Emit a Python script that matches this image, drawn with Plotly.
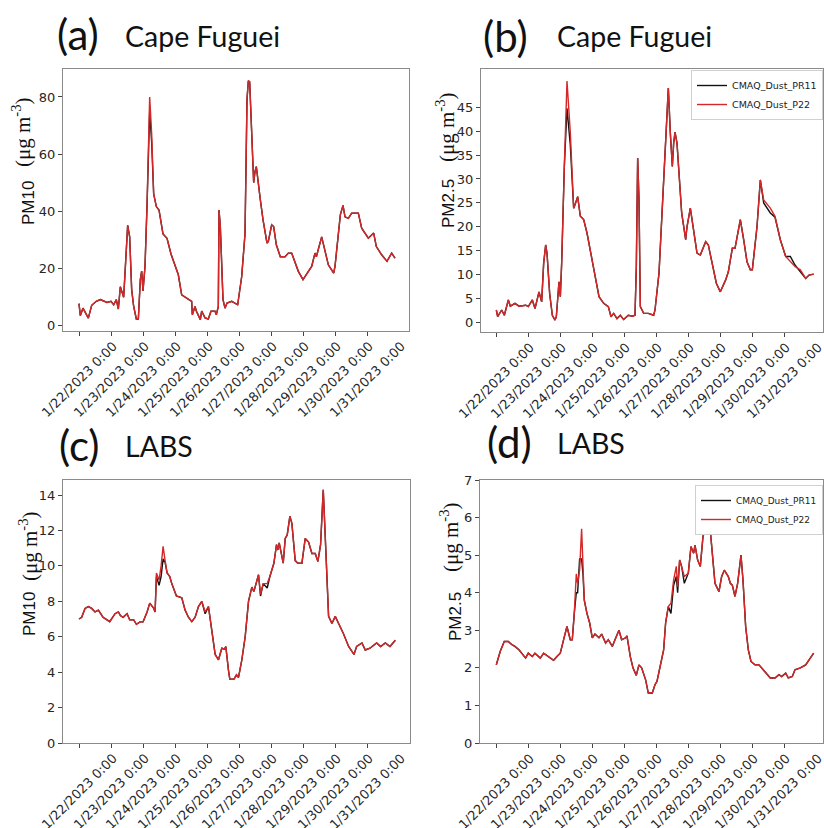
import pandas as pd
import plotly.graph_objects as go

# ---------------- data (hours after 1/22/2023 0:00) ----------------
tick_labels = ["1/22/2023 0:00", "1/23/2023 0:00", "1/24/2023 0:00", "1/25/2023 0:00",
               "1/26/2023 0:00", "1/27/2023 0:00", "1/28/2023 0:00", "1/29/2023 0:00",
               "1/30/2023 0:00", "1/31/2023 0:00"]
series_names = ["CMAQ_Dust_PR11", "CMAQ_Dust_P22"]

# (a) Cape Fuguei PM10
a_hours = [0, 1, 3, 5, 7, 9.5, 13, 16, 21, 24,
           26, 28, 29.5, 31, 33.5, 36.5, 38, 39.5, 41, 43,
           44.5, 46, 47, 48, 49.5, 51, 53, 54.5, 56, 58,
           60, 63, 66, 69, 72, 74.5, 77, 79.5, 82, 84.5,
           85, 87, 88, 91, 92, 94.5, 97, 99, 102, 103,
           104.5, 105, 106, 108, 109.5, 111, 114.5, 117, 119, 122,
           124.5, 126, 127, 128, 129.5, 131, 132, 133, 136, 138,
           141, 142, 144.5, 146, 148, 151, 154.5, 157, 159.5, 162,
           164.5, 168, 171, 174.5, 177, 178, 182, 184.5, 187, 191,
           192, 196, 198, 199.5, 202, 204.5, 209.5, 212, 214.5, 217,
           221, 223, 227, 231, 234.5, 237]
a_p22 = [7.6, 3.4, 6.0, 4.3, 2.5, 7.0, 8.4, 9.0, 8.0, 8.4,
         7.2, 9.0, 5.7, 13.5, 9.8, 35, 31, 12.5, 6.6, 2.2,
         2.2, 16, 19, 12, 20.6, 41.6, 80, 67, 46, 41.6,
         40.4, 32, 30.5, 25, 20.6, 17.7, 10.7, 10, 9, 8.4,
         3.7, 6.6, 5, 2, 5, 2.6, 2.2, 4.9, 4.9, 3.7,
         6.6, 40.4, 34.6, 9, 6, 7.8, 8.4, 7.8, 7.2, 17,
         32, 79, 85.7, 85.3, 67, 50, 53.8, 55.6, 44, 37,
         28.8, 29.4, 35.2, 34.6, 28.2, 24, 24, 25.3, 25.3, 21.8,
         18.9, 16, 18.3, 20.6, 25.3, 24, 31, 26.5, 21.2, 18.3,
         20.6, 38.7, 42, 38, 37.5, 39.3, 39.3, 34, 32.3, 30.5,
         32.3, 27.6, 24.7, 22.4, 25.3, 23.5]
a_pr11 = [7.6, 3.4, 6.0, 4.3, 2.5, 7.0, 8.4, 9.0, 8.0, 8.4,
          7.2, 9.0, 5.7, 13.5, 9.8, 35, 31, 12.5, 6.6, 2.2,
          2.2, 16, 19, 12, 20.6, 41.6, 75, 64, 46, 41.6,
          40.4, 32, 30.5, 25, 20.6, 17.7, 10.7, 10, 9, 8.4,
          3.7, 6.6, 5, 2, 5, 2.6, 2.2, 4.9, 4.9, 3.7,
          6.6, 40.4, 34.6, 9, 6, 7.8, 8.4, 7.8, 7.2, 17,
          32, 79, 85.7, 85.3, 67, 50, 53.8, 55.6, 44, 37,
          28.8, 29.4, 35.2, 34.6, 28.2, 24, 24, 25.3, 25.3, 21.8,
          18.9, 16, 18.3, 20.6, 25.3, 24, 31, 26.5, 21.2, 18.3,
          20.6, 38.7, 42, 38, 37.5, 39.3, 39.3, 34, 32.3, 30.5,
          32.3, 27.6, 24.7, 22.4, 25.3, 23.5]

# (b) Cape Fuguei PM2.5
b_hours = [0, 1, 4, 6, 9, 10.5, 14, 17, 22, 24,
           27, 29, 32, 34, 35.5, 37, 38, 40, 42, 44,
           45, 47, 48, 49, 51, 53, 55.5, 58, 59, 61,
           63, 65.5, 68, 72, 74, 77, 80.5, 84, 86, 88,
           90.5, 93, 95.5, 99, 102, 104, 105, 106, 107, 108,
           110.5, 114, 118, 119, 122, 125.5, 129, 130.5, 132, 133,
           134, 135.5, 137, 139, 142, 143, 145.5, 148, 150.5, 153,
           157, 159, 162, 165, 168, 172, 174, 177, 179, 183,
           185.5, 188, 190.5, 192, 195.5, 198, 200.5, 205.5, 209, 213,
           217, 220.5, 224, 228, 232, 234.5, 238]
b_p22 = [2.6, 1.2, 2.6, 1.5, 4.7, 3.4, 4.0, 3.4, 3.6, 3.3,
         4.7, 2.9, 6.4, 4.3, 12.4, 16.2, 14.5, 6, 1.5, 0.5,
         1.2, 8.5, 5.4, 12.4, 32.6, 50.5, 39.6, 23.9, 24.6, 26.3,
         22.2, 21.5, 18.7, 13, 9.9, 5.4, 4, 3.3, 1.2, 1.9,
         0.8, 1.5, 0.6, 1.5, 1.3, 1.5, 11.7, 34.4, 25.6, 3.3,
         1.9, 1.9, 1.5, 2.6, 10.3, 29.1, 49, 39.6, 32.6, 37.5,
         39.8, 37.5, 30.5, 22.9, 17.3, 20, 23.9, 18.7, 14.5, 14.1,
         16.9, 16.2, 12.4, 8.2, 6.4, 8.9, 10.6, 15.5, 15.5, 21.5,
         17.3, 12.7, 11, 11, 20, 29.8, 25.6, 23.9, 22.2, 17.3,
         13.8, 12.7, 11.7, 11, 9.2, 9.9, 10.1]
b_pr11 = [2.6, 1.2, 2.6, 1.5, 4.7, 3.4, 4.0, 3.4, 3.6, 3.3,
          4.7, 2.9, 6.4, 4.3, 12.4, 16.2, 14.5, 6, 1.5, 0.5,
          1.2, 8.5, 5.4, 12.4, 32.6, 44.8, 37, 23.9, 24.6, 26.3,
          22.2, 21.5, 18.7, 13, 9.9, 5.4, 4, 3.3, 1.2, 1.9,
          0.8, 1.5, 0.6, 1.5, 1.3, 1.5, 11.7, 34.4, 25.6, 3.3,
          1.9, 1.9, 1.5, 2.6, 10.3, 29.1, 49, 39.6, 32.6, 37.5,
          39.8, 37.5, 30.5, 22.9, 17.3, 20, 23.9, 18.7, 14.5, 14.1,
          16.9, 16.2, 12.4, 8.2, 6.4, 8.9, 10.6, 15.5, 15.5, 21.5,
          17.3, 12.7, 11, 11, 20, 29.8, 25.0, 22.9, 22.0, 17.3,
          13.8, 13.8, 12.0, 10.6, 9.2, 9.9, 10.1]

# (c) LABS PM10
c_hours = [0, 2, 4.5, 7, 9.5, 12, 14.5, 18, 21, 23,
           27, 29.5, 31, 33, 36, 38, 41, 43, 46, 48,
           51, 53, 56, 57, 58, 60, 61.5, 63, 64.5, 66,
           68, 69.5, 72, 73, 77, 79.5, 82, 84.5, 87, 89.5,
           92, 94.5, 97, 99.5, 102, 104.5, 107, 109, 110, 112,
           113, 116, 118, 119.5, 122, 124.5, 127, 129.5, 131, 134.5,
           136, 138, 141, 143, 146, 148, 149, 150, 153, 154.5,
           156, 158, 159.5, 162, 164, 167, 169.5, 172, 174.5, 177,
           179, 181, 183, 184.5, 187, 189.5, 192, 194.5, 198, 202,
           206, 208, 212, 214.5, 218, 223, 226, 229.5, 233, 237]
c_p22 = [7.0, 7.1, 7.6, 7.7, 7.6, 7.4, 7.5, 7.1, 6.95, 6.85,
         7.3, 7.4, 7.2, 7.1, 7.3, 6.95, 6.95, 6.7, 6.85, 6.85,
         7.4, 7.9, 7.6, 7.4, 9.6, 9.2, 10.0, 11.1, 10.3, 9.6,
         9.4, 9.0, 8.5, 8.3, 8.2, 7.5, 7.1, 6.85, 7.1, 7.7,
         8.0, 7.4, 7.7, 6.2, 5.0, 4.7, 5.35, 5.3, 5.45, 4.1,
         3.6, 3.6, 3.85, 3.7, 4.7, 6.0, 8.0, 8.8, 8.55, 9.5,
         8.4, 9.0, 9.0, 9.4, 10.15, 11.2, 10.9, 11.3, 10.15, 11.55,
         11.75, 12.8, 12.4, 10.3, 10.15, 10.15, 11.55, 11.35, 10.7, 10.7,
         10.25, 11.2, 14.3, 11.65, 7.15, 6.75, 7.15, 6.75, 6.2, 5.45,
         5.0, 5.45, 5.65, 5.25, 5.35, 5.65, 5.45, 5.65, 5.45, 5.8]
c_pr11 = [7.0, 7.1, 7.6, 7.7, 7.6, 7.4, 7.5, 7.1, 6.95, 6.85,
          7.3, 7.4, 7.2, 7.1, 7.3, 6.95, 6.95, 6.7, 6.85, 6.85,
          7.4, 7.9, 7.6, 7.4, 9.4, 8.9, 9.4, 10.4, 10.2, 9.6,
          9.4, 9.0, 8.5, 8.3, 8.2, 7.5, 7.1, 6.85, 7.1, 7.7,
          8.0, 7.3, 7.7, 6.2, 5.0, 4.7, 5.35, 5.3, 5.45, 4.1,
          3.6, 3.6, 3.85, 3.7, 4.7, 6.0, 8.0, 8.8, 8.55, 9.5,
          8.3, 9.0, 8.75, 9.4, 10.15, 11.2, 10.9, 11.3, 10.15, 11.55,
          11.75, 12.8, 12.4, 10.3, 10.15, 10.15, 11.55, 11.35, 10.7, 10.7,
          10.25, 11.2, 14.3, 11.65, 7.15, 6.75, 7.15, 6.75, 6.2, 5.45,
          5.0, 5.45, 5.65, 5.25, 5.35, 5.65, 5.45, 5.65, 5.45, 5.8]

# (d) LABS PM2.5
d_hours = [0, 3, 6, 9, 12, 14, 17, 19, 22, 24,
           27, 29, 33, 35.5, 39, 43, 45.5, 48, 50.5, 53,
           55.5, 57, 58.5, 60, 61, 62.5, 64, 65, 66, 68,
           70, 72, 74, 77, 79, 82, 84, 87, 89, 92,
           94, 97, 98, 100.5, 102.5, 105, 107, 109, 112, 114,
           117, 119, 120.5, 123, 125.5, 127, 129, 131, 133, 135,
           136, 137.5, 139, 141, 144, 146, 148, 149, 151, 153,
           155, 157, 159, 160, 162, 164, 167, 169, 171, 174,
           175.5, 177, 179, 181, 183.5, 185, 187, 189, 191, 194,
           197, 199, 202, 205.5, 209, 212, 214, 217, 219, 222,
           224, 228, 232, 234.5, 238]
d_p22 = [2.08, 2.44, 2.7, 2.7, 2.61, 2.57, 2.48, 2.39, 2.26, 2.39,
         2.3, 2.39, 2.26, 2.39, 2.3, 2.2, 2.3, 2.39, 2.75, 3.1,
         2.75, 2.75, 3.45, 4.5, 4.25, 4.6, 5.7, 4.7, 3.8, 3.45,
         3.2, 2.8, 2.9, 2.8, 2.9, 2.66, 2.75, 2.57, 2.75, 3.0,
         2.75, 2.8, 2.85, 2.3, 2.0, 1.8, 2.08, 2.0, 1.68, 1.33,
         1.33, 1.55, 1.64, 2.04, 2.48, 3.2, 3.63, 3.72, 4.34, 4.7,
         4.16, 4.87, 4.7, 4.43, 4.52, 5.23, 5.05, 5.27, 4.87, 4.7,
         5.49, 5.76, 6.0, 5.85, 5.05, 4.25, 4.03, 4.43, 4.6, 4.43,
         4.25, 4.2, 3.9, 4.25, 5.0, 4.34, 3.1, 2.48, 2.17, 2.08,
         2.08, 2.0, 1.86, 1.73, 1.73, 1.82, 1.77, 1.86, 1.73, 1.77,
         1.95, 2.0, 2.08, 2.2, 2.39]
d_pr11 = [2.08, 2.44, 2.7, 2.7, 2.61, 2.57, 2.48, 2.39, 2.26, 2.39,
          2.3, 2.39, 2.26, 2.39, 2.3, 2.2, 2.3, 2.39, 2.75, 3.1,
          2.75, 2.75, 3.45, 4.0, 4.0, 4.9, 4.9, 4.5, 3.8, 3.45,
          3.2, 2.8, 2.9, 2.8, 2.9, 2.66, 2.75, 2.57, 2.75, 3.0,
          2.75, 2.8, 2.85, 2.3, 2.0, 1.8, 2.08, 2.0, 1.68, 1.33,
          1.33, 1.55, 1.64, 2.04, 2.48, 3.2, 3.63, 3.45, 4.2, 4.43,
          4.0, 4.87, 4.7, 4.25, 4.52, 5.23, 5.05, 5.27, 4.87, 4.7,
          5.49, 5.76, 6.0, 5.85, 5.05, 4.25, 4.03, 4.43, 4.6, 4.43,
          4.25, 4.2, 3.9, 4.25, 5.0, 4.34, 3.1, 2.48, 2.17, 2.08,
          2.08, 2.0, 1.86, 1.73, 1.73, 1.82, 1.77, 1.86, 1.73, 1.77,
          1.95, 2.0, 2.08, 2.2, 2.39]

# ---------------- figure ----------------
W, H = 824, 828
BASE = pd.Timestamp("2023-01-22 00:00")


def fx(p):
    return p / W


def fy(p):
    return 1 - p / H


def to_time(hours):
    return [BASE + pd.Timedelta(hours=h) for h in hours]


tick_times = [BASE + pd.Timedelta(days=i) for i in range(len(tick_labels))]

BLACK = "#111111"
RED = "#d62728"
TICKFONT = dict(family="DejaVu Sans", size=13, color="#262626")

panels = [
    # key, hours, pr11, p22, xdom(px), ydom(px), xrange(h), yrange, ytick, legend
    ("", a_hours, a_pr11, a_p22, (63, 409), (69, 331), (-12, 247.5), (-2.0, 89.8), list(range(0, 81, 20)), None),
    ("2", b_hours, b_pr11, b_p22, (481, 823), (69, 332), (-11.5, 245), (-2.0, 53.0), list(range(0, 46, 5)), "legend"),
    ("3", c_hours, c_pr11, c_p22, (63, 410), (480, 743), (-12, 248), (0, 14.85), list(range(0, 15, 2)), None),
    ("4", d_hours, d_pr11, d_p22, (480, 823), (480, 743), (-12.2, 245), (0, 7), list(range(0, 8)), "legend2"),
]

fig = go.Figure()
layout = dict(
    width=W, height=H, margin=dict(l=0, r=0, t=0, b=0, autoexpand=False),
    paper_bgcolor="white", plot_bgcolor="white",
)
ann = []

for key, hrs, pr11, p22, xd, yd, xr, yr, yt, leg in panels:
    xa = "x" + key
    ya = "y" + key
    t = to_time(hrs)
    show = leg is not None
    fig.add_trace(go.Scatter(x=t, y=pr11, mode="lines", name=series_names[0],
                             line=dict(color=BLACK, width=1.4), xaxis=xa, yaxis=ya,
                             showlegend=show, legend=leg if leg else "legend"))
    fig.add_trace(go.Scatter(x=t, y=p22, mode="lines", name=series_names[1],
                             line=dict(color=RED, width=1.4), xaxis=xa, yaxis=ya,
                             showlegend=show, legend=leg if leg else "legend"))
    layout["xaxis" + key] = dict(
        domain=[fx(xd[0]), fx(xd[1])], anchor=ya, automargin=False,
        range=[BASE + pd.Timedelta(hours=xr[0]), BASE + pd.Timedelta(hours=xr[1])],
        tickmode="array", tickvals=tick_times, showticklabels=False,
        ticks="outside", ticklen=4, tickcolor="#444",
        showline=True, linecolor="#8a8a8a", linewidth=1, mirror=True,
        showgrid=False, zeroline=False,
    )
    layout["yaxis" + key] = dict(
        domain=[fy(yd[1]), fy(yd[0])], anchor=xa, range=list(yr), automargin=False,
        tickmode="array", tickvals=yt,
        ticks="outside", ticklen=4, tickcolor="#444", tickfont=TICKFONT,
        showline=True, linecolor="#8a8a8a", linewidth=1, mirror=True,
        showgrid=False, zeroline=False,
    )
    # rotated date labels centred on their ticks (matplotlib style)
    for tt, lab in zip(tick_times, tick_labels):
        ann.append(dict(text=lab, x=tt, y=fy(yd[1] + 6), xref=xa, yref="paper",
                        xanchor="center", yanchor="top", showarrow=False, textangle=-45,
                        borderpad=0, font=TICKFONT))

legend_style = dict(bgcolor="white", bordercolor="#d0d0d0", borderwidth=1,
                    xanchor="right", yanchor="top", itemwidth=30, tracegroupgap=0)
layout["legend"] = dict(x=fx(823), y=fy(70), font=dict(family="DejaVu Sans", size=9.5, color="#222"),
                        **legend_style)
layout["legend2"] = dict(x=fx(823), y=fy(485), font=dict(family="DejaVu Sans", size=9, color="#222"),
                         **legend_style)

fig.update_layout(**layout)

SANS_T = "Lato"
# panel titles
titles = [
    ("(a)", 78, 34, "Cape Fuguei", 123, 36),
    ("(b)", 505, 36, "Cape Fuguei", 555, 36),
    ("(c)", 79, 445, "LABS", 123, 446),
    ("(d)", 509, 442, "LABS", 555, 443),
]
for lab, lx, ly, name, nx, ny in titles:
    ann.append(dict(text=lab, x=fx(lx), y=fy(ly), xref="paper", yref="paper",
                    xanchor="center", yanchor="middle", showarrow=False,
                    font=dict(family=SANS_T, size=42, color="#111")))
    ann.append(dict(text=name, x=fx(nx), y=fy(ny), xref="paper", yref="paper",
                    xanchor="left", yanchor="middle", showarrow=False,
                    font=dict(family=SANS_T, size=28.5, color="#111")))

# y-axis labels: (quantity, qx, qy, ux, uy)
ylabels = [
    ("PM10", 29, 203, 21, 132),
    ("PM2.5", 448, 204, 445, 127),
    ("PM10", 29, 614, 28, 546),
    ("PM2.5", 455, 617, 449, 537),
]
for q, qx, qy, ux, uy in ylabels:
    ann.append(dict(text=q, x=fx(qx), y=fy(qy), xref="paper", yref="paper",
                    xanchor="center", yanchor="middle", showarrow=False, textangle=-90,
                    font=dict(family="Liberation Sans", size=17, color="#111")))
    ann.append(dict(text="(μg m<sup>-3</sup>)", x=fx(ux), y=fy(uy), xref="paper", yref="paper",
                    xanchor="center", yanchor="middle", showarrow=False, textangle=-90,
                    font=dict(family="Liberation Serif", size=21, color="#111")))

fig.update_layout(annotations=ann)
fig.write_html("out.html", config={"responsive": False, "displayModeBar": False},
               post_script="document.body.style.margin='0';document.body.style.overflow='hidden';")
